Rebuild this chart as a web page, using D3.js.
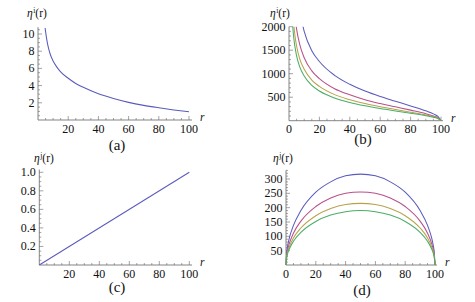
<!DOCTYPE html>
<html><head><meta charset="utf-8">
<script src="https://cdn.jsdelivr.net/npm/d3@7"></script>
<style>
html,body{margin:0;padding:0;background:#fff;}
svg{display:block;}
</style></head>
<body><svg id="c" width="475" height="302"></svg>
<script>
// ---------- data ----------
const xTicks = [20, 40, 60, 80, 100];
const xTicks0 = [0, 20, 40, 60, 80, 100];

// (a)
const rA = [4.7, 5.5, 6.5, 8, 10, 12.5, 15, 20, 25, 30, 40, 50, 60, 70, 80, 90, 100];
const etaA = [10.7, 9.7, 8.7, 7.7, 6.85, 6.15, 5.6, 4.85, 4.25, 3.8, 3.05, 2.5, 2.05, 1.7, 1.42, 1.17, 0.95];
const yTicksA = [2, 4, 6, 8, 10];

// (b)
const rB1 = [8, 10, 15, 20, 30, 40, 50, 60, 70, 80, 90, 95, 98, 100];
const etaB1 = [2180, 1900, 1490, 1260, 965, 775, 630, 515, 415, 315, 210, 145, 90, 0];
const rB2 = [4, 5, 7, 10, 15, 20, 30, 40, 50, 60, 70, 80, 90, 95, 98, 100];
const etaB2 = [2190, 1950, 1630, 1340, 1060, 895, 680, 550, 445, 365, 295, 225, 150, 100, 64, 0];
const rB3 = [3, 4, 5, 7, 10, 15, 20, 30, 40, 50, 60, 70, 80, 90, 95, 98, 100];
const etaB3 = [2080, 1790, 1590, 1320, 1095, 865, 730, 555, 447, 365, 298, 240, 182, 122, 84, 52, 0];
const rB4 = [2, 3, 5, 7, 10, 15, 20, 30, 40, 50, 60, 70, 80, 90, 95, 98, 100];
const etaB4 = [2200, 1800, 1380, 1150, 950, 750, 632, 482, 387, 316, 258, 207, 158, 105, 72, 45, 0];
const yTicksB = [500, 1000, 1500, 2000];

// (c)
const rC = [0, 100];
const etaC = [0, 1];
const yTicksC = [0.2, 0.4, 0.6, 0.8, 1.0];

// (d)
const rD = [0, 0.5, 1, 2, 5, 10, 20, 30, 40, 50, 60, 70, 80, 90, 95, 98, 99, 99.5, 100];
const etaD1 = [0, 45, 63, 89, 138, 190, 254, 290, 311, 317, 311, 290, 254, 190, 138, 89, 63, 45, 0];
const etaD2 = [0, 36, 51, 71, 111, 153, 204, 234, 250, 255, 250, 234, 204, 153, 111, 71, 51, 36, 0];
const etaD3 = [0, 30, 43, 60, 94, 129, 172, 197, 211, 215, 211, 197, 172, 129, 94, 60, 43, 30, 0];
const etaD4 = [0, 27, 38, 53, 83, 114, 152, 174, 186, 190, 186, 174, 152, 114, 83, 53, 38, 27, 0];
const yTicksD = [50, 100, 150, 200, 250, 300];

const colors = ["#5b5bbd", "#b8508a", "#b9a24c", "#4aae66"];
const panelLabels = ["(a)", "(b)", "(c)", "(d)"];

// ---------- drawing ----------
const FONT = "'Liberation Serif', serif";
const svg = d3.select("#c").attr("font-family", FONT);
const axisColor = "#666";
let clipId = 0;

function panel(cfg) {
  const g = svg.append("g");
  const x = d3.scaleLinear().domain([0, 100]).range([cfg.x0, cfg.x100]);
  const y = d3.scaleLinear().domain([0, cfg.yRef]).range([cfg.y0, cfg.yRefPx]);

  const id = "clip" + (clipId++);
  svg.append("clipPath").attr("id", id).append("rect")
    .attr("x", cfg.x0 - 2).attr("y", y(cfg.yMax))
    .attr("width", x(100) - cfg.x0 + 4).attr("height", cfg.y0 - y(cfg.yMax) + 2);

  const xminor = d3.range(5, 101, 5);
  g.selectAll(".xm").data(xminor).join("line")
    .attr("x1", d => x(d)).attr("x2", d => x(d))
    .attr("y1", cfg.y0).attr("y2", d => cfg.y0 - (d % 20 === 0 ? 4 : 2))
    .attr("stroke", axisColor).attr("stroke-width", 0.6);
  const yminor = d3.range(cfg.yMinor, cfg.yAxisTop + 1e-9, cfg.yMinor);
  g.selectAll(".ym").data(yminor).join("line")
    .attr("y1", d => y(d)).attr("y2", d => y(d))
    .attr("x1", cfg.x0).attr("x2", d => cfg.x0 + (Math.abs(d / cfg.yMajor - Math.round(d / cfg.yMajor)) < 1e-6 ? 4 : 2))
    .attr("stroke", axisColor).attr("stroke-width", 0.6);

  g.append("line").attr("x1", cfg.x0).attr("x2", cfg.xAxisEnd).attr("y1", cfg.y0).attr("y2", cfg.y0)
    .attr("stroke", axisColor).attr("stroke-width", 0.8);
  g.append("line").attr("x1", cfg.x0).attr("x2", cfg.x0).attr("y1", cfg.y0).attr("y2", y(cfg.yAxisTop))
    .attr("stroke", axisColor).attr("stroke-width", 0.8);

  g.selectAll(".xl").data(cfg.xTicks).join("text")
    .attr("x", d => x(d)).attr("y", cfg.y0 + 12.5)
    .attr("text-anchor", "middle").attr("font-size", 12).attr("fill", "#111")
    .attr("font-family", FONT)
    .text(d => d);
  g.selectAll(".yl").data(cfg.yTicks).join("text")
    .attr("x", cfg.x0 - 3.5).attr("y", d => y(d) + 4)
    .attr("text-anchor", "end").attr("font-size", 12).attr("fill", "#111")
    .attr("font-family", FONT)
    .text(cfg.yFmt);

  const t = g.append("text").attr("x", cfg.labX).attr("y", cfg.labY).attr("font-size", 11.5)
    .attr("fill", "#111").attr("font-family", FONT);
  t.append("tspan").attr("font-style", "italic").text("η");
  t.append("tspan").attr("font-size", 7.5).attr("dy", -4.5).attr("dx", 0.5).text(cfg.sup);
  t.append("tspan").attr("dy", 4.5).text("(r)");
  g.append("text").attr("x", cfg.xAxisEnd + 8).attr("y", cfg.y0 + 1).attr("font-size", 11.5)
    .attr("font-style", "italic").attr("fill", "#111").attr("font-family", FONT).text("r");

  g.append("text").attr("x", cfg.capX).attr("y", cfg.capY).attr("text-anchor", "middle")
    .attr("font-size", 15).attr("fill", "#111").attr("font-family", FONT).text(cfg.caption);

  const line = d3.line().x(d => x(d[0])).y(d => y(d[1])).curve(d3.curveMonotoneX);
  const lg = g.append("g").attr("clip-path", "url(#" + id + ")");
  cfg.series.forEach((s, i) => {
    lg.append("path").datum(d3.zip(s.r, s.v)).attr("d", line)
      .attr("fill", "none").attr("stroke", colors[i]).attr("stroke-width", 1.05);
  });
}

panel({
  x0: 38, x100: 189, xAxisEnd: 192, y0: 120, yRef: 10, yRefPx: 34, yMax: 11, yAxisTop: 10.8,
  yMinor: 0.5, yMajor: 2, xTicks: xTicks, yTicks: yTicksA, yFmt: d => d,
  labX: 27, labY: 17, sup: "i", capX: 117, capY: 150, caption: panelLabels[0],
  series: [{ r: rA, v: etaA }]
});
panel({
  x0: 289, x100: 441, xAxisEnd: 443, y0: 120.7, yRef: 2000, yRefPx: 26.7, yMax: 2000, yAxisTop: 2000,
  yMinor: 100, yMajor: 500, xTicks: xTicks0, yTicks: yTicksB, yFmt: d => d,
  labX: 270, labY: 17, sup: "i", capX: 363, capY: 144, caption: panelLabels[1],
  series: [{ r: rB1, v: etaB1 }, { r: rB2, v: etaB2 }, { r: rB3, v: etaB3 }, { r: rB4, v: etaB4 }]
});
panel({
  x0: 39.3, x100: 189.3, xAxisEnd: 192, y0: 265, yRef: 1, yRefPx: 172.3, yMax: 1.05, yAxisTop: 1.03,
  yMinor: 0.05, yMajor: 0.2, xTicks: xTicks, yTicks: yTicksC, yFmt: d3.format(".1f"),
  labX: 34, labY: 162, sup: "j", capX: 117, capY: 292, caption: panelLabels[2],
  series: [{ r: rC, v: etaC }]
});
panel({
  x0: 286, x100: 435, xAxisEnd: 437, y0: 265, yRef: 300, yRefPx: 179, yMax: 330, yAxisTop: 330,
  yMinor: 10, yMajor: 50, xTicks: xTicks0, yTicks: yTicksD, yFmt: d => d,
  labX: 273, labY: 162, sup: "j", capX: 362, capY: 295, caption: panelLabels[3],
  series: [{ r: rD, v: etaD1 }, { r: rD, v: etaD2 }, { r: rD, v: etaD3 }, { r: rD, v: etaD4 }]
});
</script></body></html>
